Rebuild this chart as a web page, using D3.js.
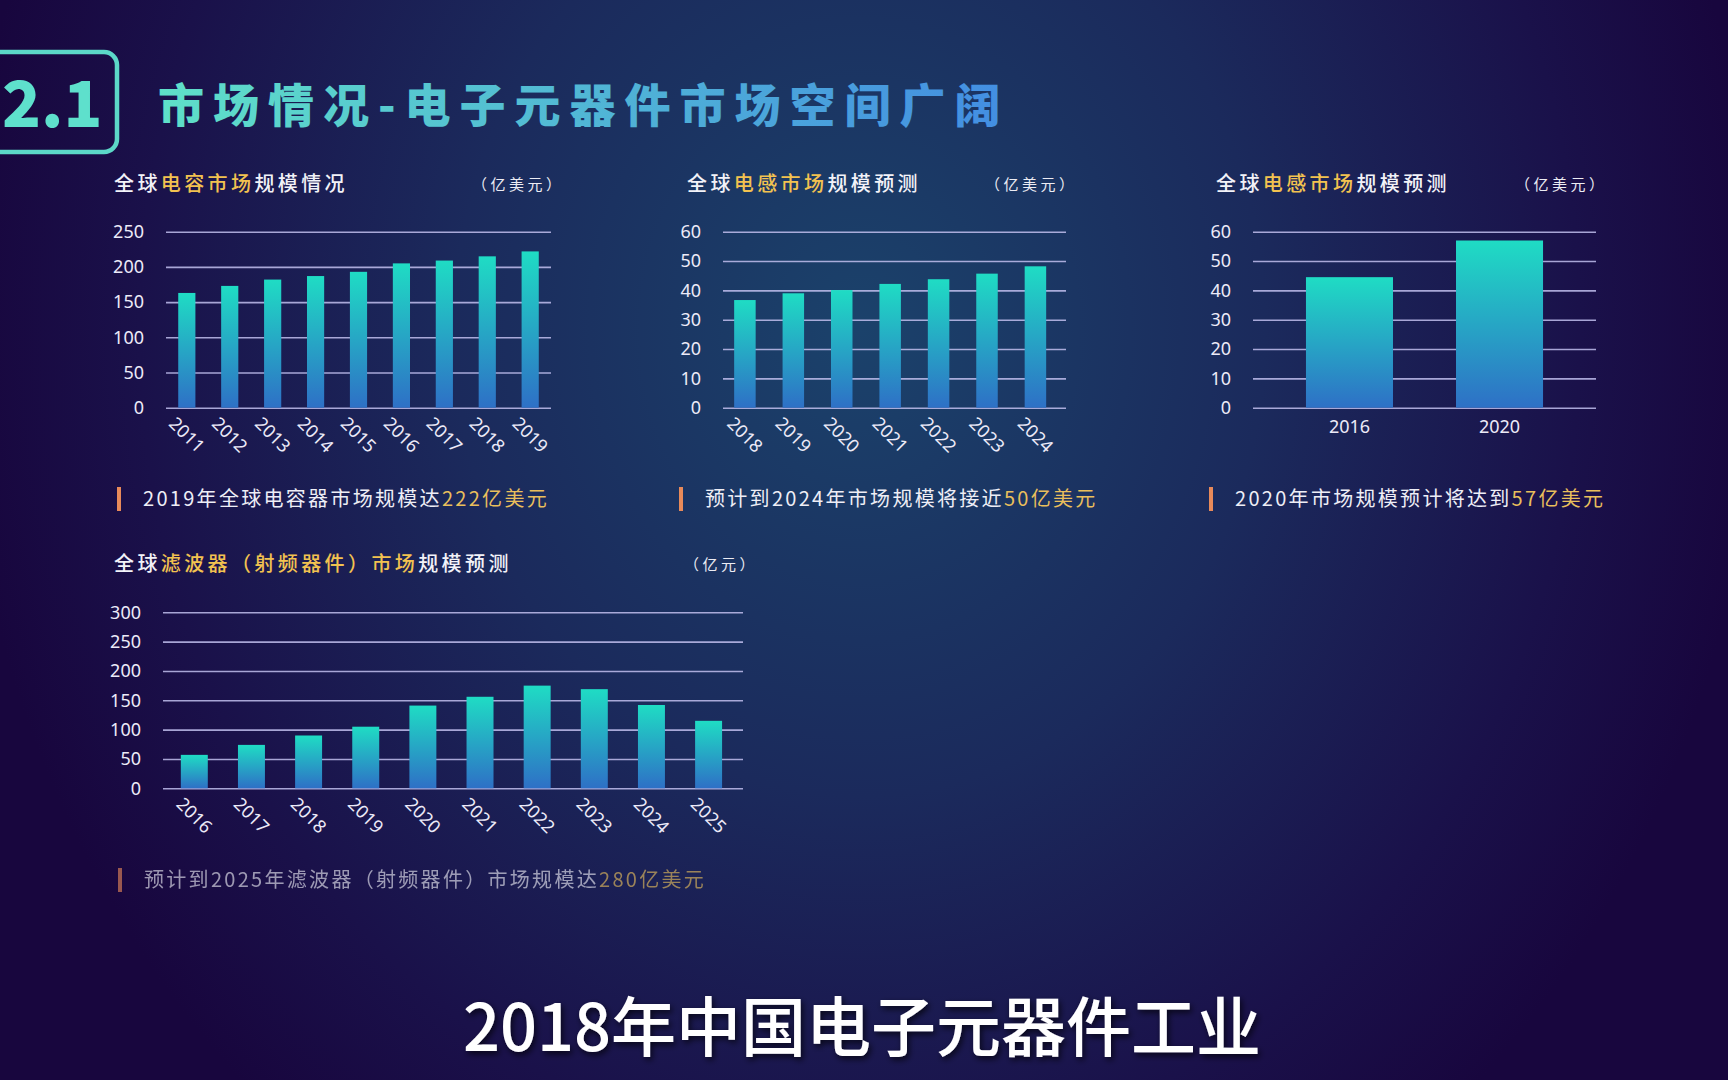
<!DOCTYPE html>
<html>
<head>
<meta charset="utf-8">
<script src="https://cdn.jsdelivr.net/npm/d3@7"></script>
<style>
  html, body { margin: 0; padding: 0; background: #190a42; overflow: hidden; }
  svg text { font-family: "Noto Sans CJK SC", "Noto Sans", sans-serif; }
</style>
</head>
<body>
<script>
// chart data
const capYears = ['2011', '2012', '2013', '2014', '2015', '2016', '2017', '2018', '2019'];
const capValues = [163, 173, 182, 187, 193, 205, 209, 215, 222];
const capTicks = [0, 50, 100, 150, 200, 250];

const indYears = ['2018', '2019', '2020', '2021', '2022', '2023', '2024'];
const indValues = [36.7, 39, 40.1, 42.2, 43.8, 45.7, 48.2];
const indTicks = [0, 10, 20, 30, 40, 50, 60];

const ind2Years = ['2016', '2020'];
const ind2Values = [44.5, 57];

const filterYears = ['2016', '2017', '2018', '2019', '2020', '2021', '2022', '2023', '2024', '2025'];
const filterValues = [57, 74, 90, 105, 141, 156, 175, 169, 142, 115];
const filterTicks = [0, 50, 100, 150, 200, 250, 300];

const W = 1728, H = 1080;

var svg = d3.select('body')
  .append('svg')
  .attr('width', W)
  .attr('height', H);

var defs = svg.append('defs');

var bg = defs.append('radialGradient')
  .attr('id', 'bg')
  .attr('gradientUnits', 'userSpaceOnUse')
  .attr('cx', 860).attr('cy', 330).attr('r', 900)
  .attr('gradientTransform', 'translate(860,330) scale(1,1.15) translate(-860,-330)');
bg.append('stop').attr('offset', '0%').attr('stop-color', '#1b426b');
bg.append('stop').attr('offset', '45%').attr('stop-color', '#1b2a5c');
bg.append('stop').attr('offset', '80%').attr('stop-color', '#1a114a');
bg.append('stop').attr('offset', '100%').attr('stop-color', '#18063e');

var barGrad = defs.append('linearGradient')
  .attr('id', 'bar')
  .attr('x1', 0).attr('y1', 0).attr('x2', 0).attr('y2', 1);
barGrad.append('stop').attr('offset', '0%').attr('stop-color', '#1fdcc4');
barGrad.append('stop').attr('offset', '100%').attr('stop-color', '#2e70c6');

var titleGrad = defs.append('linearGradient')
  .attr('id', 'ttl')
  .attr('gradientUnits', 'userSpaceOnUse')
  .attr('x1', 158).attr('y1', 0).attr('x2', 1005).attr('y2', 0);
titleGrad.append('stop').attr('offset', '0%').attr('stop-color', '#5fe0c8');
titleGrad.append('stop').attr('offset', '100%').attr('stop-color', '#438ee2');

var shadow = defs.append('filter').attr('id', 'shadow')
  .attr('x', '-10%').attr('y', '-30%').attr('width', '120%').attr('height', '160%');
shadow.append('feDropShadow')
  .attr('dx', 2).attr('dy', 3).attr('stdDeviation', 3)
  .attr('flood-color', '#000').attr('flood-opacity', 0.7);

svg.append('rect')
  .attr('width', W).attr('height', H)
  .attr('fill', 'url(#bg)');

// section badge + heading
svg.append('rect')
  .attr('x', -30).attr('y', 52)
  .attr('width', 147).attr('height', 100)
  .attr('rx', 13)
  .attr('fill', 'none')
  .attr('stroke', '#5cd8c8')
  .attr('stroke-width', 4.5);

svg.append('text')
  .attr('x', 2).attr('y', 127)
  .attr('font-size', 64)
  .attr('font-weight', 900)
  .attr('fill', '#5ee0cc')
  .text('2.1');

svg.append('text')
  .attr('x', 158).attr('y', 122)
  .attr('font-size', 46)
  .attr('font-weight', 900)
  .attr('letter-spacing', 9)
  .attr('fill', 'url(#ttl)')
  .text('市场情况-电子元器件市场空间广阔');

function chartTitle(x, y, parts, unit, unitLeft) {
  var t = svg.append('text')
    .attr('x', x).attr('y', y)
    .attr('font-size', 20)
    .attr('font-weight', 500)
    .attr('letter-spacing', 3.4);
  parts.forEach(p => {
    t.append('tspan').attr('fill', p[1] ? '#f2c250' : '#f2f2f8').text(p[0]);
  });
  svg.append('text')
    .attr('x', unitLeft).attr('y', y - 1)
    .attr('font-size', 15)
    .attr('letter-spacing', 3.5)
    .attr('fill', '#ececf4')
    .text(unit);
}

function caption(x, y, plain, gold, dim) {
  var g = svg.append('g').attr('opacity', dim ? 0.62 : 1);
  g.append('rect')
    .attr('x', x).attr('y', y - 12)
    .attr('width', 4).attr('height', 24)
    .attr('fill', '#e88a5a');
  var t = g.append('text')
    .attr('x', x + 26).attr('y', y + 7)
    .attr('font-size', 20)
    .attr('letter-spacing', 2.3);
  t.append('tspan').attr('fill', '#eeeef6').text(plain);
  t.append('tspan').attr('fill', '#e9bf5c').text(gold);
}

function barChart(cfg) {
  var x = d3.scaleBand()
    .domain(cfg.cats)
    .range([cfg.x0, cfg.x1])
    .paddingInner(cfg.pi)
    .paddingOuter(cfg.po)
    .align(cfg.align);
  var y = d3.scaleLinear()
    .domain([0, d3.max(cfg.ticks)])
    .range([cfg.y0, cfg.y1]);

  var g = svg.append('g');

  var yAxis = g.append('g')
    .attr('transform', 'translate(' + cfg.x0 + ',0)')
    .call(d3.axisLeft(y)
      .tickValues(cfg.ticks)
      .tickSize(-(cfg.x1 - cfg.x0))
      .tickPadding(22)
      .tickFormat(d3.format('d')));
  yAxis.select('.domain').remove();
  yAxis.selectAll('line')
    .attr('stroke', '#c2c0ee')
    .attr('stroke-opacity', 0.85)
    .attr('stroke-width', 1.6);
  yAxis.selectAll('text')
    .attr('fill', '#eceaf8')
    .attr('font-size', 18)
    .style('font-family', '"Noto Sans", sans-serif');

  g.selectAll('rect.bar')
    .data(cfg.values)
    .enter()
    .append('rect')
    .attr('class', 'bar')
    .attr('x', (d, i) => x(cfg.cats[i]))
    .attr('width', x.bandwidth())
    .attr('y', d => y(d))
    .attr('height', d => y(0) - y(d))
    .attr('fill', 'url(#bar)');

  var xAxis = g.append('g')
    .attr('transform', 'translate(0,' + cfg.y0 + ')')
    .call(d3.axisBottom(x).tickSize(0).tickPadding(13));
  xAxis.select('.domain').remove();
  var lbl = xAxis.selectAll('text')
    .attr('fill', '#eceaf8')
    .attr('font-size', 18)
    .style('font-family', '"Noto Sans", sans-serif');
  if (cfg.rotate) {
    lbl.attr('x', 0).attr('y', 0).attr('dy', 0)
      .attr('text-anchor', 'start')
      .attr('transform', 'translate(-19,17) rotate(45)');
  }
}

// 1. capacitors
chartTitle(114, 191, [['全球', 0], ['电容市场', 1], ['规模情况', 0]], '（亿美元）', 472);
barChart({ cats: capYears, values: capValues, ticks: capTicks,
  x0: 166, x1: 551, y0: 407.7, y1: 231.7, pi: 0.6, po: 0.285, align: 0.5, rotate: true });
caption(117, 499, '2019年全球电容器市场规模达', '222亿美元');

// 2. inductors 2018-2024
chartTitle(687, 191, [['全球', 0], ['电感市场', 1], ['规模预测', 0]], '（亿美元）', 985);
barChart({ cats: indYears, values: indValues, ticks: indTicks,
  x0: 723, x1: 1066, y0: 407.7, y1: 231.7, pi: 0.556, po: 0.32, align: 0.36, rotate: true });
caption(679, 499, '预计到2024年市场规模将接近', '50亿美元');

// 3. inductors 2016 / 2020
chartTitle(1216, 191, [['全球', 0], ['电感市场', 1], ['规模预测', 0]], '（亿美元）', 1515);
barChart({ cats: ind2Years, values: ind2Values, ticks: indTicks,
  x0: 1253, x1: 1596, y0: 407.7, y1: 231.7, pi: 0.42, po: 0.353, align: 0.5, rotate: false });
caption(1209, 499, '2020年市场规模预计将达到', '57亿美元');

// 4. filters
chartTitle(114, 571, [['全球', 0], ['滤波器（射频器件）市场', 1], ['规模预测', 0]], '（亿元）', 684);
barChart({ cats: filterYears, values: filterValues, ticks: filterTicks,
  x0: 163, x1: 743, y0: 788.3, y1: 612.3, pi: 0.528, po: 0.339, align: 0.46, rotate: true });
caption(118, 880, '预计到2025年滤波器（射频器件）市场规模达', '280亿美元', true);

// video subtitle
svg.append('text')
  .attr('x', 862).attr('y', 1051)
  .attr('text-anchor', 'middle')
  .attr('font-size', 65)
  .attr('font-weight', 500)
  .attr('fill', '#ffffff')
  .attr('filter', 'url(#shadow)')
  .text('2018年中国电子元器件工业');
</script>
</body>
</html>
